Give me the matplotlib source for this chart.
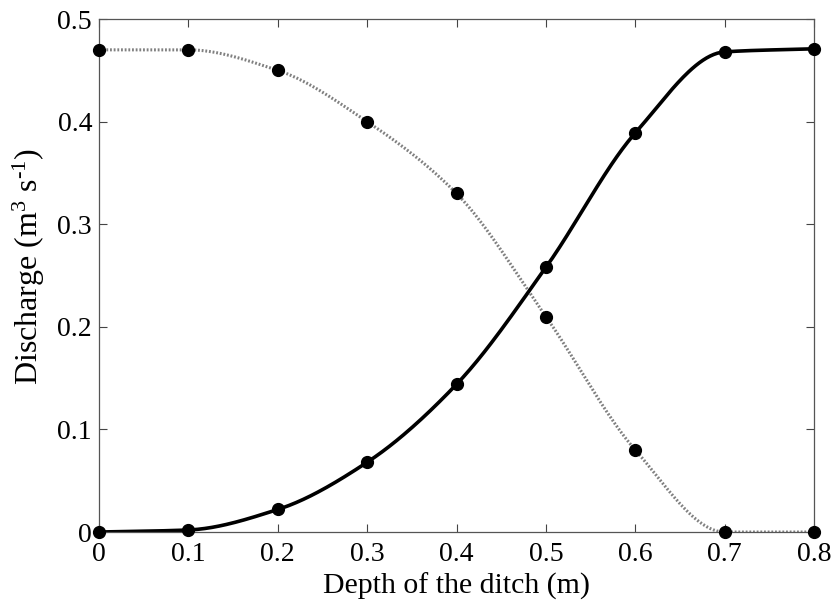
import matplotlib
matplotlib.use("Agg")
import matplotlib.pyplot as plt
import numpy as np

plt.rcParams['font.family'] = ['Liberation Serif']
plt.rcParams['mathtext.fontset'] = 'custom'
plt.rcParams['mathtext.rm'] = 'Liberation Serif'
plt.rcParams['mathtext.it'] = 'Liberation Serif:italic'

# --- data ---
depth = [0, 0.1, 0.2, 0.3, 0.4, 0.5, 0.6, 0.7, 0.8]
q_rising = [0, 0.002, 0.022, 0.068, 0.144, 0.258, 0.389, 0.468, 0.471]
q_falling = [0.47, 0.47, 0.45, 0.40, 0.33, 0.21, 0.08, 0, 0]
xtick_labels = ['0', '0.1', '0.2', '0.3', '0.4', '0.5', '0.6', '0.7', '0.8']
yticks = [0, 0.1, 0.2, 0.3, 0.4, 0.5]
ytick_labels = ['0', '0.1', '0.2', '0.3', '0.4', '0.5']


def pchip(x, y, xs):
    # monotone cubic through the points (smooth line like the original)
    x = np.asarray(x, float)
    y = np.asarray(y, float)
    h = np.diff(x)
    d = np.diff(y) / h
    n = len(x)
    m = np.zeros(n)
    for k in range(1, n - 1):
        if d[k - 1] * d[k] > 0:
            w1 = 2 * h[k] + h[k - 1]
            w2 = h[k] + 2 * h[k - 1]
            m[k] = (w1 + w2) / (w1 / d[k - 1] + w2 / d[k])
    m[0] = 0 if abs(d[0]) < 0.005 else d[0]
    m[-1] = d[-1]
    idx = np.clip(np.searchsorted(x, xs) - 1, 0, n - 2)
    t = (xs - x[idx]) / h[idx]
    h00 = 2 * t**3 - 3 * t**2 + 1
    h10 = t**3 - 2 * t**2 + t
    h01 = -2 * t**3 + 3 * t**2
    h11 = t**3 - t**2
    return (h00 * y[idx] + h10 * h[idx] * m[idx]
            + h01 * y[idx + 1] + h11 * h[idx] * m[idx + 1])


xs = np.linspace(depth[0], depth[-1], 400)

fig = plt.figure(figsize=(8.35, 6.03), dpi=100)
ax = fig.add_axes([0.1186, 0.1177, 0.8563, 0.8507])

ax.plot(xs, pchip(depth, q_falling, xs), color='#808080', lw=2.2,
        linestyle=(0, (0.6, 0.6)))
ax.plot(xs, pchip(depth, q_rising, xs), color='black', lw=2.6)
ax.plot(depth, q_falling, 'o', color='black', ms=8.5, zorder=5, clip_on=False)
ax.plot(depth, q_rising, 'o', color='black', ms=8.5, zorder=5, clip_on=False)

ax.set_xlim(0, 0.8)
ax.set_ylim(0, 0.5)
ax.set_xticks(depth)
ax.set_xticklabels(xtick_labels)
ax.set_yticks(yticks)
ax.set_yticklabels(ytick_labels)
ax.tick_params(direction='in', top=True, right=True, labelsize=20,
               length=6, width=0.8, color='#444444')
ax.tick_params(axis='x', pad=7)
ax.tick_params(axis='y', pad=5)
for s in ax.spines.values():
    s.set_color('#555555')
    s.set_linewidth(0.9)

ax.set_xlabel('Depth of the ditch (m)', fontsize=21.5, labelpad=4)
ax.set_ylabel(r'Discharge (m$^{3}$ s$^{\text{-1}}$)', fontsize=23)
ax.yaxis.set_label_coords(-0.073, 0.517)

fig.savefig('out.png', dpi=100)
